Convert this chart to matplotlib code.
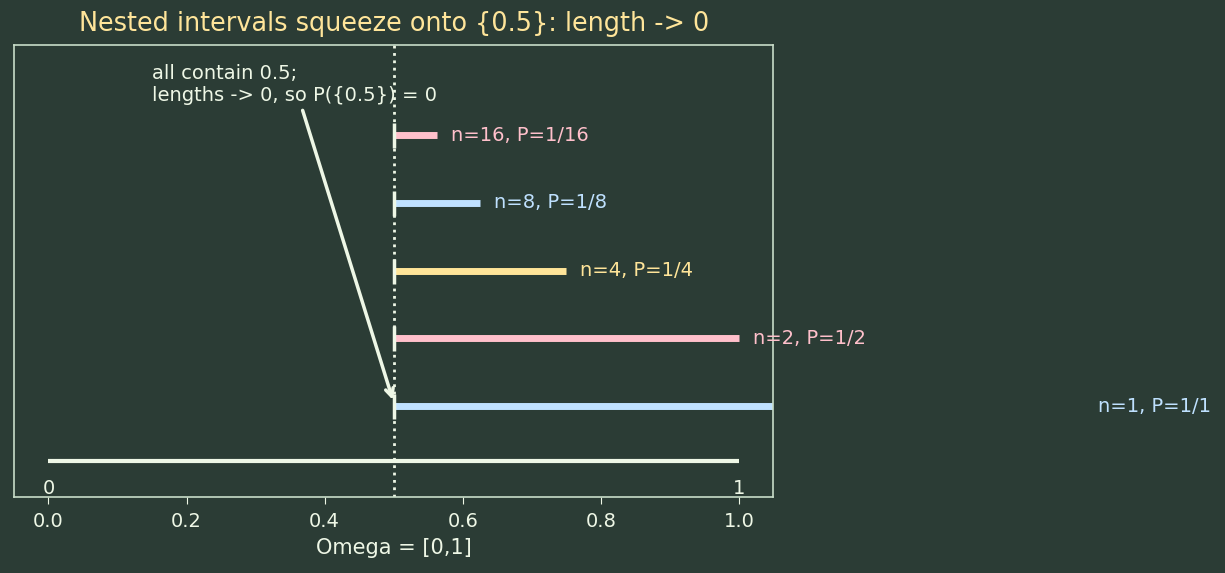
import numpy as np
import matplotlib.pyplot as plt

ns = [1, 2, 4, 8, 16]
rows = [0, 1, 2, 3, 4]
colors = ["#bfe1ff", "#ffc0cb", "#ffe599", "#bfe1ff", "#ffc0cb"]
center = 0.5
base_y = -0.81

bg = "#2b3c35"
fg = "#eef7e6"

fig = plt.figure(figsize=(12.25, 5.73), dpi=100, facecolor=bg)
ax = fig.add_axes([0.0114, 0.133, 0.62, 0.7885], facecolor=bg)

# Omega baseline
ax.plot([0, 1], [base_y, base_y], color=fg, lw=3, solid_capstyle="butt")
ax.text(0, base_y - 0.41, "0", color=fg, ha="center", va="center", fontsize=14)
ax.text(1, base_y - 0.41, "1", color=fg, ha="center", va="center", fontsize=14)

ax.axvline(center, color=fg, ls=":", lw=2)

for n, y, c in zip(ns, rows, colors):
    hi = center + 1.0 / n
    ax.plot([center, hi], [y, y], color=c, lw=5, solid_capstyle="butt")
    ax.plot([center], [y], marker="|", ms=18, mew=2.5, color=fg)
    ax.text(hi + 0.02, y, f"n={n}, P=1/{n}", color=c, va="center", ha="left",
            fontsize=14, clip_on=False)

ax.annotate("all contain 0.5;\nlengths -> 0, so P({0.5}) = 0",
            xy=(center, 0.05), xytext=(0.15, 5.05),
            color=fg, fontsize=14, ha="left", va="top",
            arrowprops=dict(arrowstyle="->", color=fg, lw=2.5))

ax.set_xlim(-0.05, 1.05)
ax.set_ylim(-1.34, 5.33)
ax.set_yticks([])
ax.set_xticks(np.arange(0, 1.01, 0.2))
ax.tick_params(colors=fg, labelsize=14, length=5, pad=6)
for s in ax.spines.values():
    s.set_color("#c8dcc8")
    s.set_linewidth(1.2)
ax.set_xlabel("Omega = [0,1]", color=fg, fontsize=15, labelpad=5)
ax.set_title("Nested intervals squeeze onto {0.5}: length -> 0", color="#ffe59a",
             fontsize=18.4, pad=10)

fig.savefig("out.png", dpi=100, facecolor=bg)
